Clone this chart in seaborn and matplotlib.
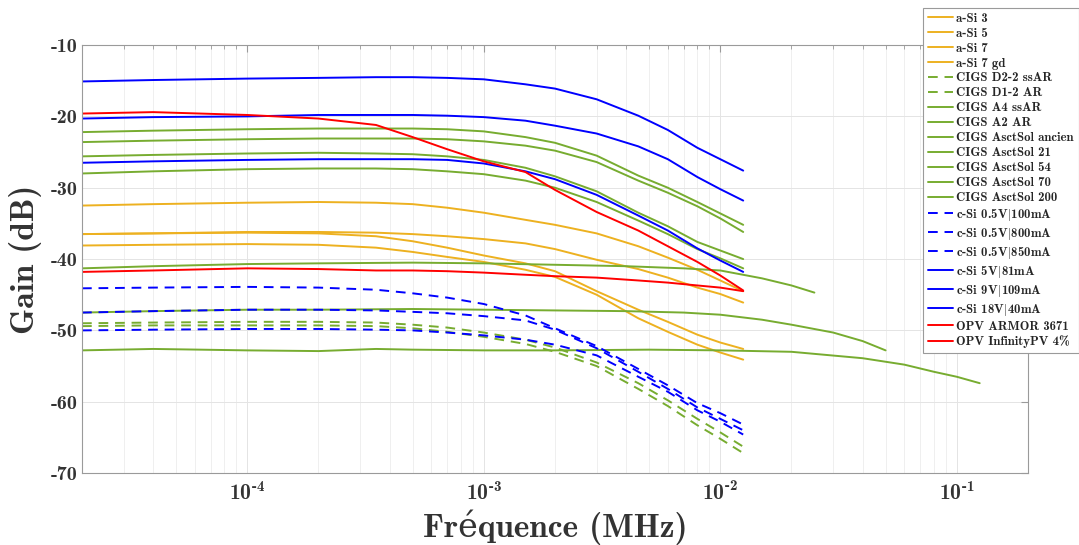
"""
Gain vs frequency of several PV cells (a-Si, CIGS, c-Si, OPV).
Values read off the reference figure.
"""

import matplotlib
matplotlib.use("Agg")
import matplotlib.pyplot as plt
import matplotlib.ticker as mticker
import seaborn as sns


# frequency grids (MHz)
FREQ = [2e-5, 4e-5, 1e-4, 2e-4, 3.5e-4, 5e-4, 7e-4, 1e-3, 1.5e-3,
        2e-3, 3e-3, 4.5e-3, 6e-3, 8e-3, 1e-2, 1.25e-2]
FREQ_54 = [2e-5, 4e-5, 1e-4, 2e-4, 5e-4, 1e-3, 2e-3, 4e-3, 7e-3,
           1e-2, 1.5e-2, 2e-2, 2.5e-2]
FREQ_70 = [2e-5, 4e-5, 1e-4, 2e-4, 5e-4, 1e-3, 2e-3, 4e-3, 7e-3,
           1e-2, 1.5e-2, 2e-2, 3e-2, 4e-2, 5e-2]
FREQ_200 = [2e-5, 4e-5, 1e-4, 2e-4, 3.5e-4, 5e-4, 1e-3, 2e-3, 5e-3,
            1e-2, 2e-2, 4e-2, 6e-2, 8e-2, 1e-1, 1.25e-1]

X_TICKS = [1e-4, 1e-3, 1e-2, 1e-1]
X_EXPONENTS = [4, 3, 2, 1]
Y_TICKS = [-70, -60, -50, -40, -30, -20, -10]

# a-Si (dB)
asi_3 = [-32.5, -32.3, -32.1, -32.0, -32.1, -32.3, -32.8, -33.5, -34.5,
         -35.2, -36.4, -38.2, -39.8, -41.5, -43.0, -44.5]
asi_5 = [-36.5, -36.4, -36.2, -36.2, -36.3, -36.5, -36.8, -37.2, -37.8,
         -38.6, -40.1, -41.4, -42.6, -44.0, -44.9, -46.1]
asi_7 = [-36.5, -36.4, -36.3, -36.4, -36.8, -37.5, -38.4, -39.5, -40.6,
         -41.7, -44.5, -47.1, -48.8, -50.6, -51.7, -52.6]
asi_7gd = [-38.1, -38.0, -37.9, -38.0, -38.4, -39.0, -39.7, -40.4, -41.5,
           -42.5, -45.0, -48.3, -50.2, -52.0, -53.1, -54.1]

# CIGS (dB)
cigs_d22 = [-49.0, -48.9, -48.8, -48.8, -48.9, -49.2, -49.6, -50.3, -51.3,
            -52.4, -54.5, -57.4, -59.8, -62.4, -64.3, -66.3]
cigs_d12 = [-49.4, -49.3, -49.3, -49.3, -49.4, -49.7, -50.2, -50.9, -51.9,
            -53.0, -55.0, -58.2, -60.6, -63.3, -65.2, -67.2]
cigs_a4 = [-22.2, -22.0, -21.8, -21.7, -21.7, -21.7, -21.8, -22.1, -22.9,
           -23.7, -25.5, -28.3, -30.0, -32.0, -33.6, -35.2]
cigs_a2 = [-23.6, -23.4, -23.2, -23.1, -23.1, -23.1, -23.2, -23.5, -24.1,
           -24.8, -26.4, -29.0, -30.7, -32.6, -34.3, -36.2]
cigs_ancien = [-25.6, -25.4, -25.2, -25.1, -25.2, -25.3, -25.6, -26.1, -27.2,
               -28.4, -30.5, -33.5, -35.4, -37.6, -38.8, -40.0]
cigs_21 = [-28.0, -27.7, -27.4, -27.3, -27.3, -27.4, -27.7, -28.1, -29.0,
           -30.0, -32.0, -34.6, -36.5, -38.6, -39.9, -41.3]
cigs_54 = [-41.3, -41.0, -40.7, -40.6, -40.5, -40.6, -40.8, -41.0, -41.3,
           -41.6, -42.7, -43.7, -44.7]
cigs_70 = [-47.5, -47.3, -47.1, -47.1, -47.0, -47.1, -47.2, -47.3, -47.5,
           -47.8, -48.5, -49.2, -50.3, -51.5, -52.8]
cigs_200 = [-52.8, -52.6, -52.8, -52.9, -52.6, -52.7, -52.8, -52.8, -52.7,
            -52.8, -53.0, -53.9, -54.8, -55.8, -56.5, -57.4]

# c-Si (dB)
csi_100 = [-44.1, -44.0, -43.9, -44.0, -44.3, -44.8, -45.4, -46.3, -47.9,
           -49.7, -52.2, -55.4, -57.7, -60.2, -61.6, -63.2]
csi_800 = [-47.5, -47.3, -47.1, -47.1, -47.2, -47.4, -47.6, -48.0, -48.6,
           -49.9, -52.5, -55.8, -58.2, -60.8, -62.4, -64.0]
csi_850 = [-50.0, -49.9, -49.8, -49.8, -49.9, -50.0, -50.3, -50.7, -51.3,
           -52.0, -53.5, -56.5, -58.6, -61.2, -62.8, -64.6]
csi_5v = [-26.5, -26.3, -26.1, -26.0, -26.0, -26.0, -26.1, -26.6, -27.7,
          -28.8, -31.0, -33.9, -36.0, -38.5, -40.2, -41.8]
csi_9v = [-20.3, -20.1, -20.0, -19.8, -19.8, -19.8, -19.9, -20.1, -20.6,
          -21.3, -22.4, -24.2, -26.0, -28.5, -30.2, -31.8]
csi_18v = [-15.1, -14.9, -14.7, -14.6, -14.5, -14.5, -14.6, -14.8, -15.5,
           -16.1, -17.6, -19.9, -21.9, -24.4, -26.0, -27.6]

# OPV (dB)
opv_armor = [-19.6, -19.4, -19.8, -20.3, -21.2, -22.9, -24.6, -26.3, -27.8,
             -30.3, -33.4, -36.0, -38.2, -40.4, -42.3, -44.4]
opv_infinity = [-41.8, -41.6, -41.3, -41.4, -41.6, -41.6, -41.7, -41.9, -42.2,
                -42.4, -42.6, -43.0, -43.3, -43.7, -44.0, -44.5]

ORANGE = "#EDB120"
GREEN = "#77AC30"
BLUE = "#0000FF"
RED = "#FF0000"
DASH = (0, (5, 3.5))
BAR = r"$\!\mid\!$"

CURVES = [
    ("a-Si 3", FREQ, asi_3, ORANGE, "-"),
    ("a-Si 5", FREQ, asi_5, ORANGE, "-"),
    ("a-Si 7", FREQ, asi_7, ORANGE, "-"),
    ("a-Si 7 gd", FREQ, asi_7gd, ORANGE, "-"),
    ("CIGS D2-2 ssAR", FREQ, cigs_d22, GREEN, DASH),
    ("CIGS D1-2 AR", FREQ, cigs_d12, GREEN, DASH),
    ("CIGS A4 ssAR", FREQ, cigs_a4, GREEN, "-"),
    ("CIGS A2 AR", FREQ, cigs_a2, GREEN, "-"),
    ("CIGS AsctSol ancien", FREQ, cigs_ancien, GREEN, "-"),
    ("CIGS AsctSol 21", FREQ, cigs_21, GREEN, "-"),
    ("CIGS AsctSol 54", FREQ_54, cigs_54, GREEN, "-"),
    ("CIGS AsctSol 70", FREQ_70, cigs_70, GREEN, "-"),
    ("CIGS AsctSol 200", FREQ_200, cigs_200, GREEN, "-"),
    ("c-Si 0.5V" + BAR + "100mA", FREQ, csi_100, BLUE, DASH),
    ("c-Si 0.5V" + BAR + "800mA", FREQ, csi_800, BLUE, DASH),
    ("c-Si 0.5V" + BAR + "850mA", FREQ, csi_850, BLUE, DASH),
    ("c-Si 5V" + BAR + "81mA", FREQ, csi_5v, BLUE, "-"),
    ("c-Si 9V" + BAR + "109mA", FREQ, csi_9v, BLUE, "-"),
    ("c-Si 18V" + BAR + "40mA", FREQ, csi_18v, BLUE, "-"),
    ("OPV ARMOR 3671", FREQ, opv_armor, RED, "-"),
    ("OPV InfinityPV 4%", FREQ, opv_infinity, RED, "-"),
]


sns.set_style("white")
plt.rcParams["font.family"] = ["cmb10", "DejaVu Serif"]
plt.rcParams["font.weight"] = "bold"
plt.rcParams["mathtext.fontset"] = "custom"
plt.rcParams["mathtext.rm"] = "cmb10"
plt.rcParams["mathtext.it"] = "cmb10"
plt.rcParams["mathtext.bf"] = "cmb10"
plt.rcParams["mathtext.default"] = "bf"
plt.rcParams["mathtext.fallback"] = "cm"
plt.rcParams["axes.unicode_minus"] = False

fig = plt.figure(figsize=(10.79, 5.45), dpi=100)
ax = fig.add_axes([0.076, 0.132, 0.8767, 0.7853])

for label, freq, gain, color, ls in CURVES:
    sns.lineplot(x=freq, y=gain, ax=ax, color=color, linestyle=ls,
                 linewidth=1.4, label=label, sort=False, estimator=None)

ax.set_xscale("log")
ax.set_xlim(2e-5, 0.2)
ax.set_ylim(-70, -10)
ax.set_yticks(Y_TICKS)
ax.set_xticks(X_TICKS,
              labels=[r"$10^{\text{-}%d}$" % e for e in X_EXPONENTS])
ax.xaxis.set_minor_locator(mticker.LogLocator(base=10, subs=range(2, 10), numticks=20))
ax.xaxis.set_minor_formatter(mticker.NullFormatter())

ax.grid(True, which="major", color="#e4e4e4", linewidth=0.7)
ax.grid(True, which="minor", axis="x", color="#ececec", linewidth=0.6)
ax.set_axisbelow(True)

for side in ["left", "right", "top", "bottom"]:
    ax.spines[side].set_visible(True)
    ax.spines[side].set_color("#9a9a9a")
    ax.spines[side].set_linewidth(0.8)

ax.tick_params(which="both", direction="in", top=True, right=True,
               color="#9a9a9a", labelcolor="#333333", labelsize=14.5)
ax.tick_params(which="major", length=5)
ax.tick_params(which="minor", length=3)
ax.tick_params(axis="x", labelsize=15.5, pad=6)

ax.set_xlabel("Fréquence (MHz)", fontsize=24, color="#333333", labelpad=4)
ax.set_ylabel("Gain (dB)", fontsize=24, color="#333333", labelpad=6)

leg = ax.legend(loc="upper left", bbox_to_anchor=(0.855, 0.986),
                bbox_transform=fig.transFigure, fontsize=9.2,
                frameon=True, fancybox=False, framealpha=1,
                edgecolor="#9a9a9a", handlelength=2.0, handletextpad=0.25,
                labelspacing=0.23, borderpad=0.4, borderaxespad=0)
leg.get_frame().set_linewidth(0.8)

fig.savefig("out.png", dpi=100)
plt.close(fig)
